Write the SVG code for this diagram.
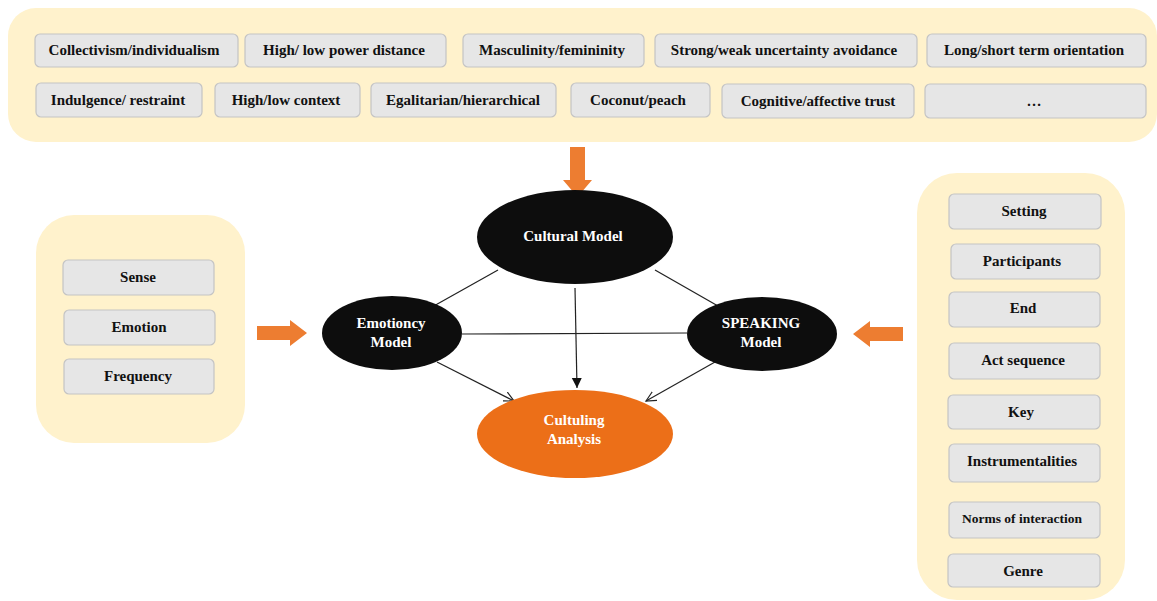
<svg xmlns="http://www.w3.org/2000/svg" width="1157" height="601" viewBox="0 0 1157 601">
<style>
.panel{fill:#fff2cc;stroke:none}
.box{fill:#e6e6e6;stroke:#c4c4c4;stroke-width:1.2}
.t{font-family:"Liberation Serif","Times New Roman",serif;font-weight:bold;font-size:15px;fill:#111;text-anchor:middle;dominant-baseline:central}
.w{font-family:"Liberation Serif","Times New Roman",serif;font-weight:bold;font-size:15px;fill:#fff;text-anchor:middle;dominant-baseline:central}
.blk{fill:#0d0d0d}
.org{fill:#ed7d31}
.ln{stroke:#222;stroke-width:1.2;fill:none}
</style>
<defs>
<marker id="ah" markerWidth="12" markerHeight="12" refX="10" refY="6" orient="auto" markerUnits="userSpaceOnUse">
<path d="M0,1 L10,6 L0,11" fill="none" stroke="#222" stroke-width="1.2"/>
</marker>
<marker id="ahf" markerWidth="12" markerHeight="12" refX="10" refY="6" orient="auto" markerUnits="userSpaceOnUse">
<path d="M0,1 L10,6 L0,11 Z" fill="#111"/>
</marker>
</defs>

<g id="cultural-dimensions">
<rect class="panel" x="8" y="8" width="1149" height="134" rx="28"/>
<rect class="box" x="35" y="34" width="203" height="33" rx="5"/><text class="t" x="134" y="50">Collectivism/individualism</text>
<rect class="box" x="245" y="34" width="201" height="33" rx="5"/><text class="t" x="344" y="50">High/ low power distance</text>
<rect class="box" x="463" y="34" width="181" height="33" rx="5"/><text class="t" x="552" y="50">Masculinity/femininity</text>
<rect class="box" x="655" y="34" width="262" height="33" rx="5"/><text class="t" x="784" y="50">Strong/weak uncertainty avoidance</text>
<rect class="box" x="927" y="34" width="219" height="33" rx="5"/><text class="t" x="1034" y="50">Long/short term orientation</text>
<rect class="box" x="36" y="83" width="166" height="34" rx="5"/><text class="t" x="118" y="100">Indulgence/ restraint</text>
<rect class="box" x="215" y="83" width="145" height="34" rx="5"/><text class="t" x="286" y="100">High/low context</text>
<rect class="box" x="371" y="83" width="185" height="34" rx="5"/><text class="t" x="463" y="100">Egalitarian/hierarchical</text>
<rect class="box" x="571" y="83" width="139" height="34" rx="5"/><text class="t" x="638" y="100">Coconut/peach</text>
<rect class="box" x="722" y="84" width="192" height="34" rx="5"/><text class="t" x="818" y="101">Cognitive/affective trust</text>
<rect class="box" x="925" y="84" width="221" height="34" rx="5"/><text class="t" x="1034" y="101">…</text>
</g>

<g id="emotioncy-items">
<rect class="panel" x="36" y="215" width="209" height="228" rx="38"/>
<rect class="box" x="63" y="260" width="151" height="35" rx="5"/><text class="t" x="138" y="277">Sense</text>
<rect class="box" x="64" y="310" width="151" height="35" rx="5"/><text class="t" x="139" y="327">Emotion</text>
<rect class="box" x="64" y="359" width="150" height="35" rx="5"/><text class="t" x="138" y="376">Frequency</text>
</g>

<g id="speaking-items">
<rect class="panel" x="917" y="173" width="208" height="427" rx="40"/>
<rect class="box" x="949" y="194" width="152" height="35" rx="5"/><text class="t" x="1024" y="211">Setting</text>
<rect class="box" x="951" y="244" width="149" height="35" rx="5"/><text class="t" x="1022" y="261">Participants</text>
<rect class="box" x="949" y="292" width="151" height="35" rx="5"/><text class="t" x="1023" y="308">End</text>
<rect class="box" x="949" y="343" width="151" height="36" rx="5"/><text class="t" x="1023" y="360">Act sequence</text>
<rect class="box" x="948" y="395" width="152" height="34" rx="5"/><text class="t" x="1021" y="412">Key</text>
<rect class="box" x="949" y="444" width="151" height="38" rx="5"/><text class="t" x="1022" y="461">Instrumentalities</text>
<rect class="box" x="949" y="502" width="151" height="36" rx="5"/><text class="t" x="1022" y="518" style="font-size:13.5px">Norms of interaction</text>
<rect class="box" x="948" y="554" width="152" height="33" rx="5"/><text class="t" x="1023" y="571">Genre</text>
</g>

<g id="orange-arrows">
<path class="org" d="M570,147 L585,147 L585,180 L592,180 L577.5,197 L563,180 L570,180 Z"/>
<path class="org" d="M257,326 L290,326 L290,320 L307,333 L290,346 L290,340 L257,340 Z"/>
<path class="org" d="M903,327 L870,327 L870,321 L853,334 L870,347 L870,341 L903,341 Z"/>
</g>

<g id="connectors">
<line class="ln" x1="498" y1="270" x2="432" y2="307"/>
<line class="ln" x1="655" y1="270" x2="718" y2="306"/>
<line class="ln" x1="462" y1="334" x2="687" y2="333"/>
<line class="ln" x1="575" y1="288" x2="577" y2="388" marker-end="url(#ahf)"/>
<line class="ln" x1="437" y1="362" x2="514" y2="401" marker-end="url(#ah)"/>
<line class="ln" x1="715" y1="362" x2="646" y2="401" marker-end="url(#ah)"/>
</g>

<g id="cultural-model">
<ellipse class="blk" cx="575" cy="237" rx="98" ry="47"/>
<text class="w" x="573" y="236">Cultural Model</text>
</g>
<g id="emotioncy-model">
<ellipse class="blk" cx="392" cy="333" rx="70" ry="37"/>
<text class="w" x="391" y="323">Emotioncy</text>
<text class="w" x="391" y="342">Model</text>
</g>
<g id="speaking-model">
<ellipse class="blk" cx="762" cy="334" rx="75" ry="37"/>
<text class="w" x="761" y="323">SPEAKING</text>
<text class="w" x="761" y="342">Model</text>
</g>
<g id="culturing-analysis">
<ellipse cx="575" cy="434" rx="98" ry="44" fill="#ec6f18"/>
<text class="w" x="574" y="420">Cultuling</text>
<text class="w" x="574" y="439">Analysis</text>
</g>
</svg>
